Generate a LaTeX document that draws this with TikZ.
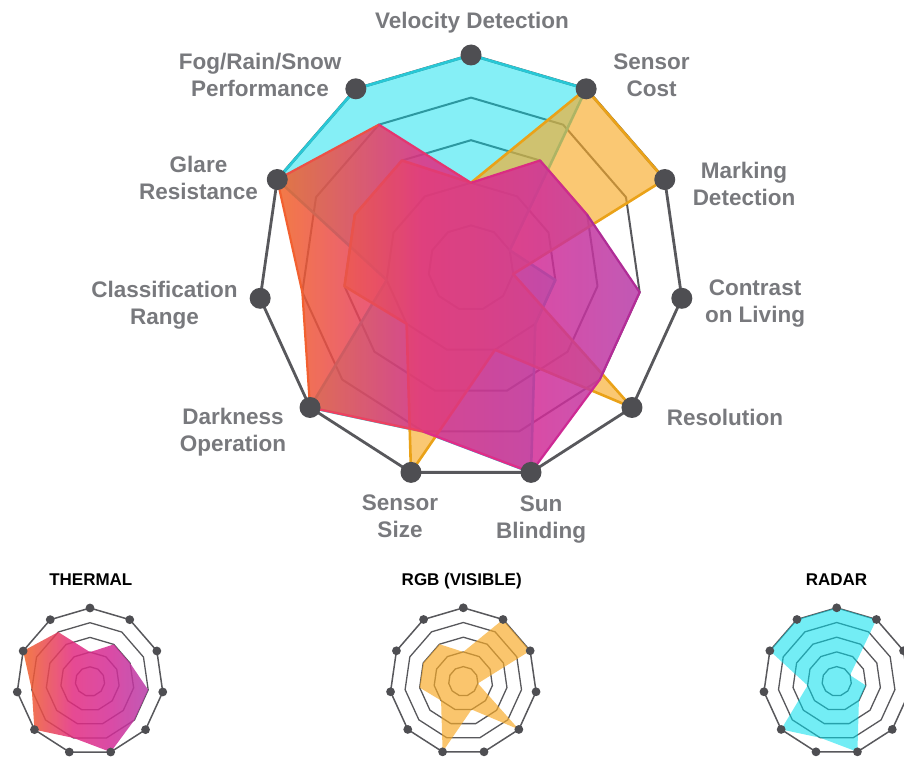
\documentclass[tikz,border=0pt]{standalone}
\usepackage{fontspec}
\setmainfont{Liberation Sans}
\definecolor{gridgray}{RGB}{88,88,92}
\definecolor{dotgray}{RGB}{78,78,82}
\definecolor{labelgray}{RGB}{120,121,125}
\definecolor{cyanfill}{RGB}{0,222,236}
\definecolor{cyanline}{RGB}{40,200,214}
\definecolor{yelfill}{RGB}{247,170,40}
\definecolor{yelline}{RGB}{234,162,24}
\definecolor{thA}{RGB}{240,99,38}
\definecolor{thB}{RGB}{226,42,128}
\definecolor{thC}{RGB}{211,44,150}
\definecolor{thD}{RGB}{182,60,168}
\definecolor{te0}{RGB}{218,44,130}
\definecolor{te1}{RGB}{205,44,140}
\definecolor{te2}{RGB}{175,44,150}
\definecolor{te3}{RGB}{180,44,152}
\definecolor{te4}{RGB}{205,42,148}
\definecolor{te5}{RGB}{225,44,136}
\definecolor{te6}{RGB}{238,64,96}
\definecolor{te7}{RGB}{242,96,48}
\definecolor{te8}{RGB}{242,96,48}
\definecolor{te9}{RGB}{236,80,70}
\definecolor{te10}{RGB}{228,54,112}
\pgfdeclarehorizontalshading{thermsh}{100bp}{color(0bp)=(thA); color(25bp)=(thA); color(45bp)=(thB); color(60bp)=(thC); color(75bp)=(thD); color(100bp)=(thD)}
\tikzset{
  ring/.style={draw=gridgray, line width=2pt, line join=round},
  outerring/.style={draw=gridgray, line width=2.8pt, line join=round},
  smallring/.style={draw=gridgray, line width=1.3pt, line join=round},
  smallouter/.style={draw=gridgray, line width=1.5pt, line join=round},
  lab/.style={font=\bfseries\fontsize{22.5}{27}\selectfont, text=labelgray, align=center, inner sep=0pt},
  ttl/.style={font=\bfseries\fontsize{17}{20}\selectfont, text=black, inner sep=0pt},
  cyanpoly/.style={fill=cyanfill, fill opacity=0.48},
  yelpoly/.style={fill=yelfill, fill opacity=0.65},
  thermshade/.style={shading=thermsh, fill opacity=0.85},
}
\newcommand{\mkpts}[3]{\foreach \v [count=\k from 0] in {#3} {\coordinate (#1\k) at ({-90+\k*360/11}:{\v*#2});}}
\newcommand{\polyp}[1]{(#10) -- (#11) -- (#12) -- (#13) -- (#14) -- (#15) -- (#16) -- (#17) -- (#18) -- (#19) -- (#110) -- cycle}
\newcommand{\ringat}[2]{\draw[#1] (-90:#2) \foreach \k in {1,...,10} {-- ({-90+\k*360/11}:#2)} -- cycle;}
\begin{document}
\begin{tikzpicture}[x=1pt,y=-1pt]
\useasboundingbox (0,0) rectangle (904,757);
\clip (0,0) rectangle (904,757);
% ---------------- main chart ----------------
\begin{scope}[shift={(471,268)}]
  \foreach \r in {42.6,85.2,127.8,170.4} {\ringat{ring}{\r}}
  \ringat{outerring}{213}
  \mkpts{ra}{42.6}{5,5,1,2,2,5,4,5,2,5,5}
  \mkpts{rg}{42.6}{2,5,5,1,5,2,5,2,3,3,3}
  \mkpts{th}{42.6}{2,3,3,4,4,5,4,5,4,5,4}
  \mkpts{ax}{42.6}{5,5,5,5,5,5,5,5,5,5,5}
  \fill[cyanpoly] \polyp{ra};
  \draw[cyanline, line width=2.6pt, line join=round] \polyp{ra};
  \fill[yelpoly] \polyp{rg};
  \draw[yelline, line width=2.6pt, line join=round] \polyp{rg};
  \shade[thermshade] \polyp{th};
  \foreach \a/\b/\c in {0/1/te0,1/2/te1,2/3/te2,3/4/te3,4/5/te4,5/6/te5,6/7/te6,7/8/te7,8/9/te8,9/10/te9,10/0/te10}
    {\draw[\c, line width=2.2pt, line cap=round] (th\a) -- (th\b);}
  \foreach \k in {0,...,10} {\fill[dotgray] (ax\k) circle (10.5);}
\end{scope}
% labels
\node[lab] (lvel) at (472,23) {Velocity Detection};
\node[lab] (lcost) at (651.5,75) {Sensor\\Cost};
\node[lab] (lmark) at (744,184) {Marking\\Detection};
\node[lab] (lcont) at (755,304) {Contrast\\on Living};
\node[lab] (lres) at (725,417) {Resolution};
\node[lab] (lsun) at (541,519.5) {Sun\\Blinding};
\node[lab] (lsize) at (400,516.5) {Sensor\\Size};
\node[lab] (ldark) at (233,432) {Darkness\\Operation};
\node[lab] (lclass) at (164.5,305) {Classification\\Range};
\node[lab] (lglare) at (198.5,178) {Glare\\Resistance};
\node[lab] (lfog) at (260,74.5) {Fog/Rain/Snow\\Performance};
% ---------------- small charts ----------------
\node[ttl] (tth) at (90.8,580) {THERMAL};
\node[ttl] (trgb) at (461.7,581.5) {RGB (VISIBLE)};
\node[ttl] (trad) at (836.5,580) {RADAR};
\begin{scope}[shift={(90,681.5)}]
  \foreach \r in {14.7,29.4,44.1,58.8} {\ringat{smallring}{\r}}
  \ringat{smallouter}{73.5}
  \mkpts{sth}{14.7}{2,3,3,4,4,5,4,5,4,5,4}
  \mkpts{sa}{14.7}{5,5,5,5,5,5,5,5,5,5,5}
  \shade[thermshade] \polyp{sth};
  \foreach \k in {0,...,10} {\fill[dotgray] (sa\k) circle (4.4);}
\end{scope}
\begin{scope}[shift={(463.3,681.3)}]
  \foreach \r in {14.7,29.4,44.1,58.8} {\ringat{smallring}{\r}}
  \ringat{smallouter}{73.5}
  \mkpts{srg}{14.7}{2,5,5,1,5,2,5,2,3,3,3}
  \mkpts{sb}{14.7}{5,5,5,5,5,5,5,5,5,5,5}
  \fill[yelfill, fill opacity=0.68] \polyp{srg};
  \foreach \k in {0,...,10} {\fill[dotgray] (sb\k) circle (4.4);}
\end{scope}
\begin{scope}[shift={(836.7,681.3)}]
  \foreach \r in {14.7,29.4,44.1,58.8} {\ringat{smallring}{\r}}
  \ringat{smallouter}{73.5}
  \mkpts{sra}{14.7}{5,5,1,2,2,5,4,5,2,5,5}
  \mkpts{sc}{14.7}{5,5,5,5,5,5,5,5,5,5,5}
  \fill[cyanfill, fill opacity=0.55] \polyp{sra};
  \foreach \k in {0,...,10} {\fill[dotgray] (sc\k) circle (4.4);}
\end{scope}
\end{tikzpicture}
\end{document}
